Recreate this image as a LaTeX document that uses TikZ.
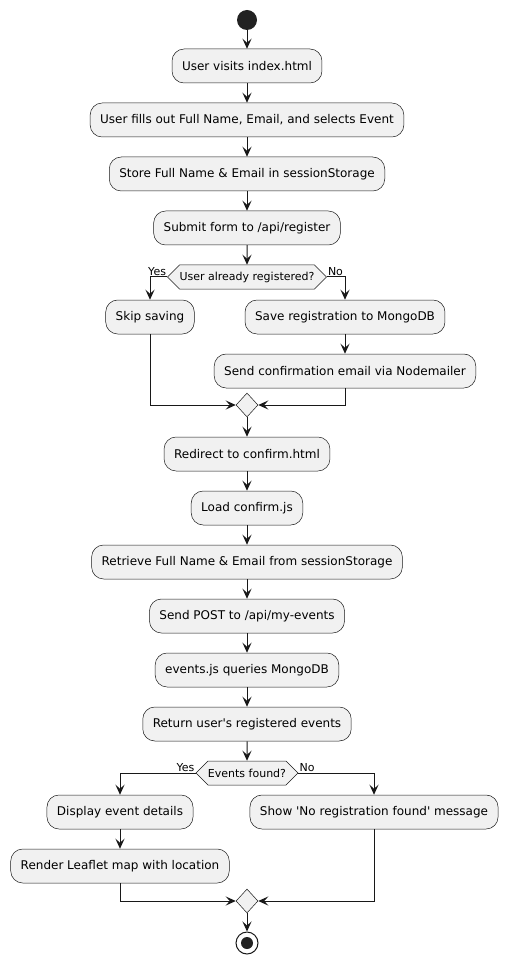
\documentclass[tikz,border=0pt]{standalone}
\usepackage{fontspec}
\setmainfont{DejaVu Sans}
\usetikzlibrary{arrows.meta,shapes.geometric,shapes.symbols}
\definecolor{actfill}{HTML}{F1F1F1}
\definecolor{actline}{HTML}{181818}
\definecolor{dotfill}{HTML}{222222}

\begin{document}
\begin{tikzpicture}[x=1pt,y=-1pt,>={Stealth[length=10pt,width=9pt,inset=4pt]},
  act/.style={draw=actline,fill=actfill,line width=0.5pt,rounded corners=12pt,minimum height=34pt,inner xsep=10pt,font=\fontsize{12}{14}\selectfont},
  quest/.style={signal,signal to=west and east,signal pointer angle=90,draw=actline,fill=actfill,line width=0.5pt,minimum height=24pt,inner xsep=0pt,inner ysep=0pt,font=\fontsize{11}{13}\selectfont},
  merge/.style={diamond,draw=actline,fill=actfill,line width=0.5pt,minimum width=22pt,minimum height=24pt,inner sep=0pt},
  lbl/.style={font=\fontsize{11}{13}\selectfont,inner sep=1pt},
  flow/.style={->,draw=actline,line width=1pt}]
\useasboundingbox (0,0) rectangle (508,965);
\node[circle,fill=dotfill,minimum size=20pt,inner sep=0pt] (start) at (247,20) {};
\node[act] (visit) at (247,66) {User visits index.html};
\node[act] (fill) at (247,120) {User fills out Full Name, Email, and selects Event};
\node[act] (store) at (247,174) {Store Full Name \& Email in sessionStorage};
\node[act] (submit) at (247,228) {Submit form to /api/register};
\node[quest] (q1) at (247,277) {User already registered?};
\node[lbl,anchor=south east] (yes1) at (q1.west) {Yes};
\node[lbl,anchor=south west] (no1) at (q1.east) {No};
\node[act] (skip) at (150,317) {Skip saving};
\node[act] (save) at (345,317) {Save registration to MongoDB};
\node[act] (mail) at (345,371) {Send confirmation email via Nodemailer};
\node[merge] (m1) at (247,405) {};
%
\node[act] (redirect) at (247,454) {Redirect to confirm.html};
\node[act] (load) at (247,508) {Load confirm.js};
\node[act] (retrieve) at (247,562) {Retrieve Full Name \& Email from sessionStorage};
\node[act] (post) at (247,616) {Send POST to /api/my-events};
\node[act] (query) at (247,670) {events.js queries MongoDB};
\node[act] (ret) at (247,724) {Return user\textquotesingle s registered events};
\node[quest] (q2) at (247,773) {Events found?};
\node[lbl,anchor=south east] (yes2) at (q2.west) {Yes};
\node[lbl,anchor=south west] (no2) at (q2.east) {No};
\node[act] (show) at (120,812) {Display event details};
\node[act] (none) at (374,812) {Show \textquotesingle No registration found\textquotesingle{} message};
\node[act] (map) at (120,866) {Render Leaflet map with location};
\node[merge] (m2) at (247,901) {};
\node[circle,draw=actline,line width=1pt,fill=white,minimum size=22pt,inner sep=0pt,
  path picture={\fill[dotfill] (path picture bounding box.center) circle (6pt);}] (stop) at (247,943) {};
%
\draw[flow] (start) -- (visit);
\draw[flow] (visit) -- (fill);
\draw[flow] (fill) -- (store);
\draw[flow] (store) -- (submit);
\draw[flow] (submit) -- (q1);
\draw[flow] (q1.west) -| (skip);
\draw[flow] (q1.east) -| (save);
\draw[flow] (save) -- (mail);
\draw[flow] (skip) |- (m1);
\draw[flow] (mail) |- (m1);
\draw[flow] (m1) -- (redirect);
\draw[flow] (redirect) -- (load);
\draw[flow] (load) -- (retrieve);
\draw[flow] (retrieve) -- (post);
\draw[flow] (post) -- (query);
\draw[flow] (query) -- (ret);
\draw[flow] (ret) -- (q2);
\draw[flow] (q2.west) -| (show);
\draw[flow] (q2.east) -| (none);
\draw[flow] (show) -- (map);
\draw[flow] (map) |- (m2);
\draw[flow] (none) |- (m2);
\draw[flow] (m2) -- (stop);
\end{tikzpicture}
\end{document}
